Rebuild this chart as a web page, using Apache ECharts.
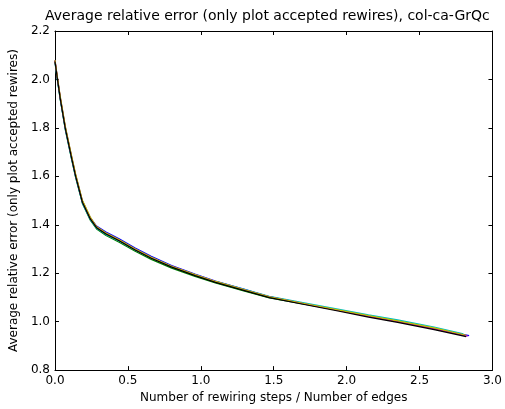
<!DOCTYPE html>
<html>
<head>
<meta charset="utf-8">
<script src="https://cdn.jsdelivr.net/npm/echarts@6/dist/echarts.min.js"></script>
<style>
  html, body { margin: 0; padding: 0; background: #fff; }
  #main { width: 505px; height: 409px; }
</style>
</head>
<body>
<div id="main"></div>
<script>
// rewiring steps / edges, shared by all runs
var xSteps = [0, 0.017, 0.037, 0.071, 0.114, 0.141, 0.188, 0.242, 0.285, 0.35, 0.44, 0.55, 0.66, 0.8, 0.96, 1.1, 1.3, 1.47, 1.7, 1.94, 2.15, 2.35, 2.6, 2.82];

var runNames = ['b', 'g', 'r', 'c', 'm', 'y', 'k'];
var runColors = ['#0000ff', '#008000', '#ff0000', '#00bfbf', '#bf00bf', '#bfbf00', '#000000'];

var errBlue    = [2.080, 2.006, 1.924, 1.803, 1.681, 1.608, 1.499, 1.430, 1.395, 1.370, 1.342, 1.304, 1.270, 1.232, 1.196, 1.168, 1.133, 1.103, 1.076, 1.048, 1.023, 1.001, 0.971, 0.942];
var errGreen   = [2.070, 1.995, 1.913, 1.792, 1.670, 1.597, 1.488, 1.419, 1.383, 1.356, 1.328, 1.291, 1.257, 1.221, 1.187, 1.160, 1.126, 1.098, 1.073, 1.047, 1.023, 1.002, 0.973, 0.945];
var errRed     = [2.078, 2.004, 1.922, 1.801, 1.679, 1.606, 1.497, 1.428, 1.391, 1.365, 1.337, 1.299, 1.265, 1.228, 1.193, 1.165, 1.131, 1.102, 1.075, 1.047, 1.022, 1.000, 0.970, 0.941];
var errCyan    = [2.071, 1.996, 1.914, 1.793, 1.671, 1.598, 1.489, 1.421, 1.386, 1.360, 1.333, 1.296, 1.263, 1.227, 1.193, 1.166, 1.133, 1.105, 1.079, 1.052, 1.028, 1.007, 0.978, 0.950];
var errMagenta = [2.076, 2.002, 1.920, 1.799, 1.677, 1.604, 1.495, 1.426, 1.390, 1.364, 1.336, 1.298, 1.264, 1.228, 1.193, 1.165, 1.131, 1.102, 1.075, 1.047, 1.022, 1.000, 0.970, 0.940];
var errYellow  = [2.080, 2.008, 1.927, 1.806, 1.684, 1.611, 1.501, 1.432, 1.392, 1.366, 1.338, 1.300, 1.266, 1.229, 1.194, 1.166, 1.131, 1.102, 1.076, 1.049, 1.025, 1.003, 0.974, 0.944];
var errBlack   = [2.074, 2.000, 1.918, 1.797, 1.675, 1.602, 1.493, 1.424, 1.388, 1.362, 1.334, 1.296, 1.262, 1.225, 1.190, 1.162, 1.128, 1.099, 1.072, 1.044, 1.019, 0.997, 0.967, 0.938];

// last x differs a little between runs
var lastX = [2.84, 2.80, 2.82, 2.80, 2.83, 2.82, 2.82];

var runs = [errBlue, errGreen, errRed, errCyan, errMagenta, errYellow, errBlack];

var font = 'DejaVu Sans';
var myChart = echarts.init(document.getElementById('main'));

var series = runs.map(function (ys, i) {
  var pts = ys.map(function (y, j) {
    var x = j === ys.length - 1 ? lastX[i] : xSteps[j];
    return [x, y];
  });
  return {
    name: runNames[i],
    type: 'line',
    data: pts,
    showSymbol: false,
    symbol: 'none',
    lineStyle: { color: runColors[i], width: 1.2 },
    itemStyle: { color: runColors[i] },
    animation: false,
    z: 2 + i
  };
});

function axisBase() {
  return {
    type: 'value',
    axisLine: { show: true, onZero: false, lineStyle: { color: '#000', width: 1 } },
    axisTick: { show: true, inside: true, length: 4, lineStyle: { color: '#000' } },
    splitLine: { show: false }
  };
}

var xBottom = Object.assign(axisBase(), {
  position: 'bottom', min: 0, max: 3, interval: 0.5,
  name: 'Number of rewiring steps / Number of edges',
  nameLocation: 'middle', nameGap: 21,
  nameTextStyle: { fontFamily: font, fontSize: 12, color: '#000' },
  axisLabel: { fontFamily: font, fontSize: 12, color: '#000', margin: 5,
    formatter: function (v) { return v.toFixed(1); } }
});
var xTop = Object.assign(axisBase(), {
  position: 'top', min: 0, max: 3, interval: 0.5, axisLabel: { show: false }
});
var yLeft = Object.assign(axisBase(), {
  position: 'left', min: 0.8, max: 2.2, interval: 0.2,
  name: 'Average relative error (only plot accepted rewires)',
  nameLocation: 'middle', nameGap: 30, nameRotate: 90,
  nameTextStyle: { fontFamily: font, fontSize: 12, color: '#000' },
  axisLabel: { fontFamily: font, fontSize: 12, color: '#000', margin: 5,
    formatter: function (v) { return v.toFixed(1); } }
});
var yRight = Object.assign(axisBase(), {
  position: 'right', min: 0.8, max: 2.2, interval: 0.2, axisLabel: { show: false }
});

var option = {
  backgroundColor: '#fff',
  animation: false,
  title: {
    text: 'Average relative error (only plot accepted rewires), col-ca-GrQc',
    left: 40, top: 4,
    textStyle: { fontFamily: font, fontSize: 14, fontWeight: 'normal', color: '#000' }
  },
  grid: { left: 48, right: 11, top: 31, bottom: 33 },
  xAxis: [xBottom, xTop],
  yAxis: [yLeft, yRight],
  series: series
};

myChart.setOption(option);
</script>
</body>
</html>
